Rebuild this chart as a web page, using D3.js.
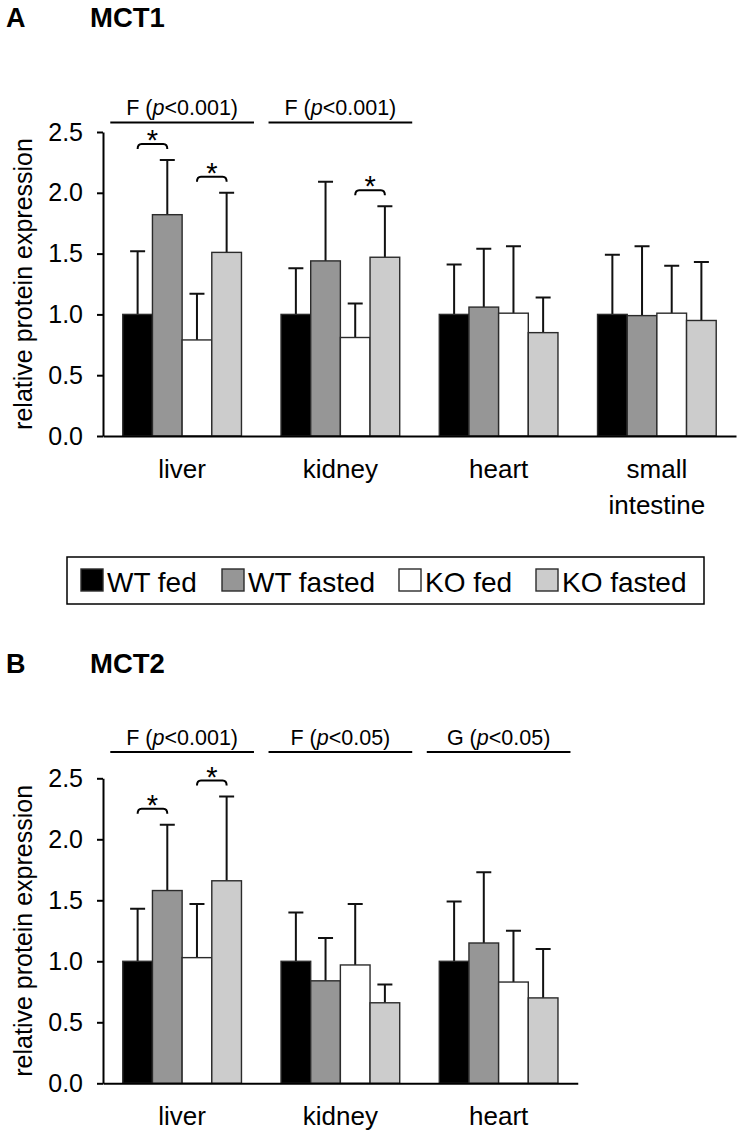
<!DOCTYPE html>
<html><head><meta charset="utf-8">
<script src="https://cdn.jsdelivr.net/npm/d3@7"></script>
<style>
body{margin:0;background:#fff}
svg{display:block}
text{font-family:"Liberation Sans",Arial,Helvetica,sans-serif;fill:#000}
</style>
</head><body>
<svg id="chart" width="743" height="1138"></svg>
<script>
// ---------- data ----------
const groups = ["WT fed", "WT fasted", "KO fed", "KO fasted"];
const groupColors = ["#000000", "#969696", "#ffffff", "#cccccc"];

const tissuesA = ["liver", "kidney", "heart", "small intestine"];
const meanA = [
  [1.00, 1.82, 0.79, 1.51],
  [1.00, 1.44, 0.81, 1.47],
  [1.00, 1.06, 1.01, 0.85],
  [1.00, 0.99, 1.01, 0.95]
];
const sdA = [
  [0.52, 0.45, 0.38, 0.49],
  [0.38, 0.65, 0.28, 0.42],
  [0.41, 0.48, 0.55, 0.29],
  [0.49, 0.57, 0.39, 0.48]
];
const anovaA = [
  {tissue: "liver", factor: "F", p: "0.001"},
  {tissue: "kidney", factor: "F", p: "0.001"}
];
const starsA = [
  {tissue: "liver", from: "WT fed", to: "WT fasted"},
  {tissue: "liver", from: "KO fed", to: "KO fasted"},
  {tissue: "kidney", from: "KO fed", to: "KO fasted"}
];

const tissuesB = ["liver", "kidney", "heart"];
const meanB = [
  [1.00, 1.58, 1.03, 1.66],
  [1.00, 0.84, 0.97, 0.66],
  [1.00, 1.15, 0.83, 0.70]
];
const sdB = [
  [0.43, 0.54, 0.44, 0.69],
  [0.40, 0.35, 0.50, 0.15],
  [0.49, 0.58, 0.42, 0.40]
];
const anovaB = [
  {tissue: "liver", factor: "F", p: "0.001"},
  {tissue: "kidney", factor: "F", p: "0.05"},
  {tissue: "heart", factor: "G", p: "0.05"}
];
const starsB = [
  {tissue: "liver", from: "WT fed", to: "WT fasted"},
  {tissue: "liver", from: "KO fed", to: "KO fasted"}
];

const yTicks = [0, 0.5, 1.0, 1.5, 2.0, 2.5];
const yTitle = "relative protein expression";

// ---------- drawing ----------
const svg = d3.select("#chart");
const FONT = '"Liberation Sans",Arial,Helvetica,sans-serif';

function drawPanel(cfg) {
  const {letter, title, tissues, means, sds, anova, stars, top, bottom, titleY, annoY} = cfg;
  const axisX = 103, step = 158.25;
  const g = svg.append("g");

  const y = d3.scaleLinear().domain([0, 2.5]).range([bottom, top]);
  const x0 = d3.scaleBand().domain(tissues)
    .range([axisX, axisX + step * tissues.length])
    .paddingInner(0.25).paddingOuter(0.125);
  const x1 = d3.scaleBand().domain(groups).range([0, x0.bandwidth()]);
  const color = d3.scaleOrdinal().domain(groups).range(groupColors);

  // titles
  g.append("text").attr("x", 6).attr("y", titleY)
    .attr("font-size", 27).attr("font-weight", "bold").text(letter);
  g.append("text").attr("x", 90).attr("y", titleY)
    .attr("font-size", 27.5).attr("font-weight", "bold").text(title);

  // bars
  const rows = tissues.map((t, i) => groups.map((grp, j) => ({
    tissue: t, group: grp, mean: means[i][j], sd: sds[i][j]
  })));
  const tg = g.append("g").selectAll("g").data(rows).join("g")
    .attr("transform", d => `translate(${x0(d[0].tissue)},0)`);

  // error bars (upper only)
  const cap = 7.5;
  tg.selectAll("path.err").data(d => d).join("path")
    .attr("class", "err")
    .attr("d", d => {
      const cx = x1(d.group) + x1.bandwidth() / 2;
      return `M${cx},${y(d.mean)}V${y(d.mean + d.sd)}M${cx - cap},${y(d.mean + d.sd)}H${cx + cap}`;
    })
    .attr("fill", "none").attr("stroke", "#111").attr("stroke-width", 2);

  tg.selectAll("rect").data(d => d).join("rect")
    .attr("x", d => x1(d.group))
    .attr("y", d => y(d.mean))
    .attr("width", x1.bandwidth())
    .attr("height", d => y(0) - y(d.mean))
    .attr("fill", d => color(d.group))
    .attr("stroke", "#2b2b2b").attr("stroke-width", 1.4);

  // y axis
  const yAxis = d3.axisLeft(y).tickValues(yTicks).tickFormat(d3.format(".1f"))
    .tickSize(6).tickPadding(14).tickSizeOuter(0);
  const ya = g.append("g").attr("transform", `translate(${axisX},0)`).call(yAxis);
  ya.selectAll("text").attr("font-size", 25).attr("font-family", FONT).attr("fill", "#000");
  ya.selectAll("line").attr("stroke", "#000").attr("stroke-width", 2);
  ya.select(".domain").attr("stroke", "#000").attr("stroke-width", 2);

  // x axis
  const xAxis = d3.axisBottom(x0).tickSize(0).tickSizeOuter(0).tickFormat("");
  const xa = g.append("g").attr("transform", `translate(0,${y(0)})`).call(xAxis);
  xa.select(".domain").attr("stroke", "#000").attr("stroke-width", 2);
  xa.selectAll(".tick").each(function(d) {
    const t = d3.select(this).append("text")
      .attr("text-anchor", "middle").attr("font-size", 26).attr("font-family", FONT)
      .attr("fill", "#000");
    d.split(" ").forEach((w, k) => {
      t.append("tspan").attr("x", 0).attr("y", 42 + k * 36).text(w);
    });
  });

  // y axis title
  g.append("text")
    .attr("transform", `translate(32,${(top + bottom) / 2}) rotate(-90)`)
    .attr("text-anchor", "middle").attr("font-size", 25).text(yTitle);

  // ANOVA annotations
  const ag = g.append("g").selectAll("g").data(anova).join("g");
  ag.append("line")
    .attr("x1", d => x0(d.tissue) - 12.5)
    .attr("x2", d => x0(d.tissue) + x0.bandwidth() + 12.5)
    .attr("y1", annoY).attr("y2", annoY)
    .attr("stroke", "#000").attr("stroke-width", 2);
  const at = ag.append("text")
    .attr("x", d => x0(d.tissue) + x0.bandwidth() / 2)
    .attr("y", annoY - 7.5)
    .attr("text-anchor", "middle").attr("font-size", 21.5);
  at.append("tspan").text(d => d.factor + " (");
  at.append("tspan").attr("font-style", "italic").text("p");
  at.append("tspan").text(d => "<" + d.p + ")");

  // significance brackets
  const sg = g.append("g").selectAll("g").data(stars).join("g");
  const bracketY = d => {
    const i = tissues.indexOf(d.tissue);
    const a = groups.indexOf(d.from), b = groups.indexOf(d.to);
    const m = Math.max(means[i][a] + sds[i][a], means[i][b] + sds[i][b]);
    return y(m) - 16;
  };
  sg.append("path")
    .attr("d", d => {
      const xa1 = x0(d.tissue) + x1(d.from) + x1.bandwidth() / 2;
      const xb1 = x0(d.tissue) + x1(d.to) + x1.bandwidth() / 2;
      const by = bracketY(d);
      return `M${xa1},${by + 5}Q${xa1},${by} ${xa1 + 4},${by}H${xb1 - 4}Q${xb1},${by} ${xb1},${by + 5}`;
    })
    .attr("fill", "none").attr("stroke", "#000").attr("stroke-width", 2);
  sg.append("text")
    .attr("x", d => x0(d.tissue) + x1(d.from) + x1.bandwidth())
    .attr("y", d => bracketY(d) + 6)
    .attr("text-anchor", "middle").attr("font-size", 29).text("*");
}

drawPanel({letter: "A", title: "MCT1", tissues: tissuesA, means: meanA, sds: sdA,
  anova: anovaA, stars: starsA, top: 132, bottom: 436, titleY: 26.5, annoY: 122.5});
drawPanel({letter: "B", title: "MCT2", tissues: tissuesB, means: meanB, sds: sdB,
  anova: anovaB, stars: starsB, top: 778.3, bottom: 1083.3, titleY: 673, annoY: 752});

// legend
const lg = svg.append("g");
lg.append("rect").attr("x", 67).attr("y", 557).attr("width", 637).attr("height", 47)
  .attr("fill", "#fff").attr("stroke", "#000").attr("stroke-width", 1.5);
const legendX = d3.scaleOrdinal().domain(groups).range([81, 222, 399, 536]);
const li = lg.selectAll("g.item").data(groups).join("g").attr("class", "item")
  .attr("transform", d => `translate(${legendX(d)},569)`);
li.append("rect").attr("width", 22).attr("height", 22)
  .attr("fill", (d, i) => groupColors[i]).attr("stroke", "#2b2b2b").attr("stroke-width", 1.4);
li.append("text").attr("x", 26).attr("y", 22.5).attr("font-size", 28).text(d => d);
</script>
</body></html>
